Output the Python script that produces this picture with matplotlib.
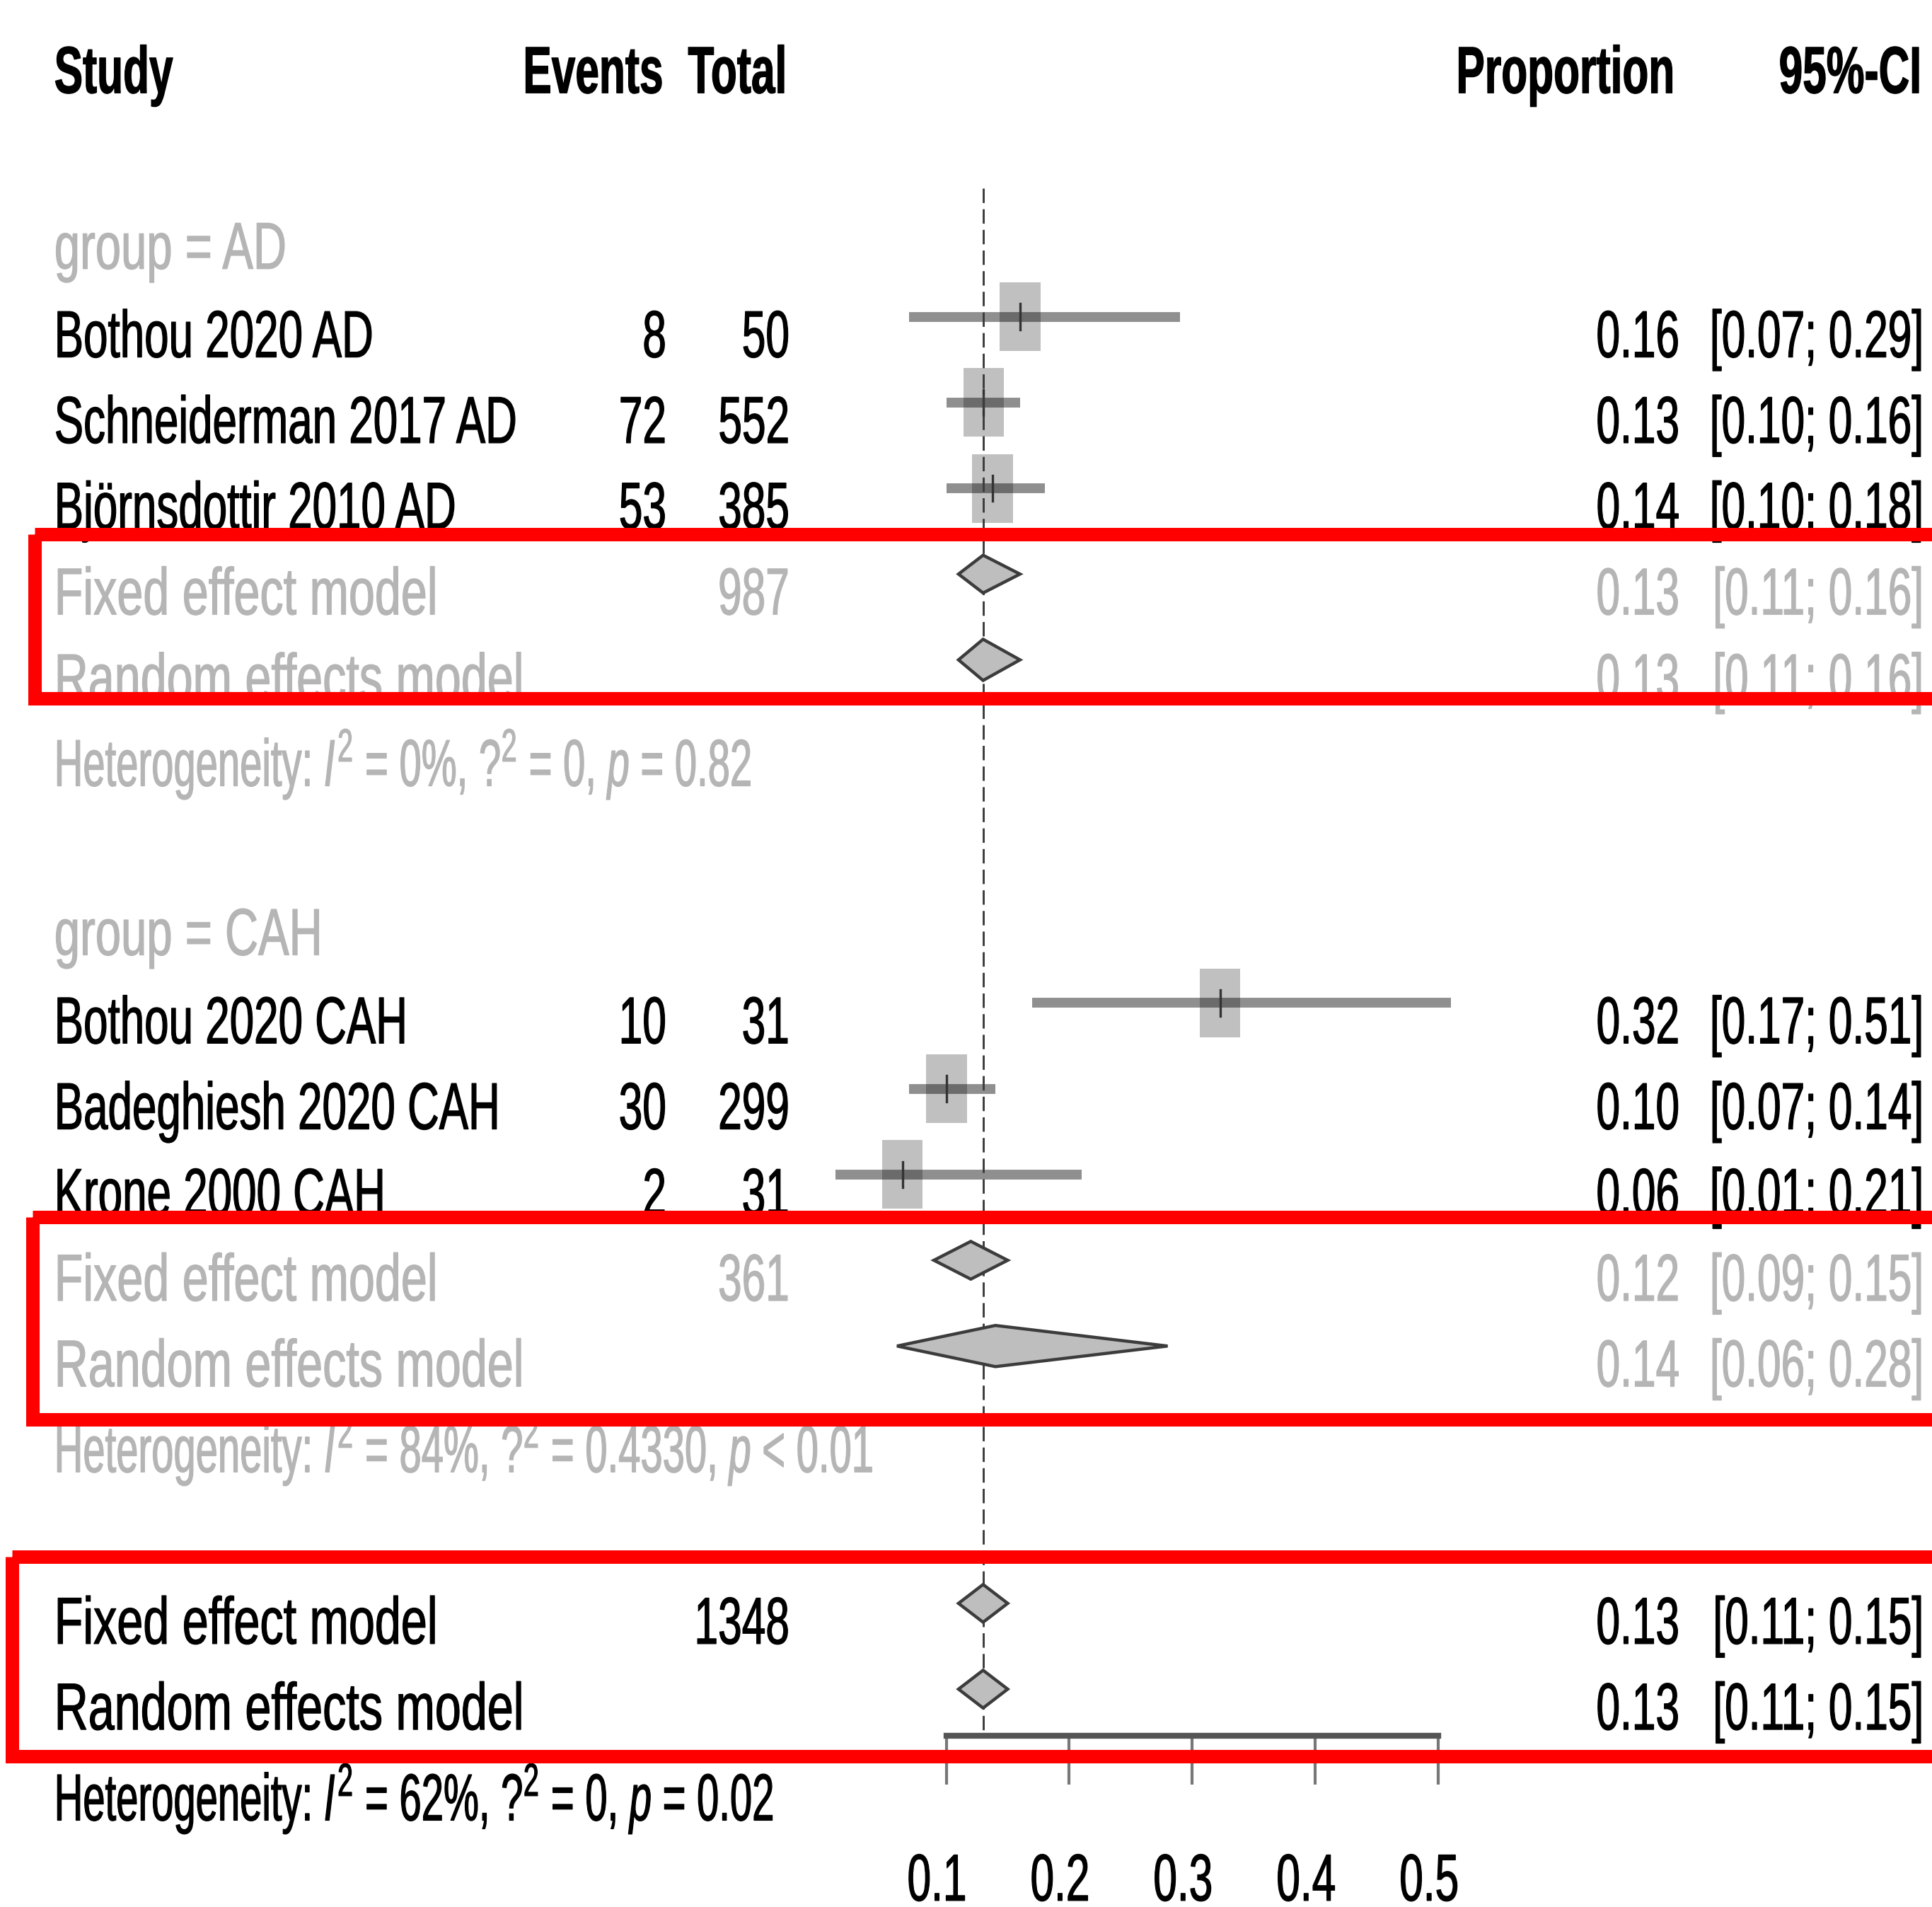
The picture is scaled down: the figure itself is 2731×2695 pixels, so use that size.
import matplotlib
matplotlib.use("Agg")
import matplotlib.pyplot as plt
from matplotlib.patches import Rectangle, Polygon
from matplotlib.patheffects import AbstractPathEffect
from matplotlib.transforms import Affine2D, ScaledTranslation, blended_transform_factory
from matplotlib import font_manager

# ---------------- data ----------------
studies = ["Bothou 2020 AD", "Schneiderman 2017 AD", "Björnsdottir 2010 AD",
           "Bothou 2020 CAH", "Badeghiesh 2020 CAH", "Krone 2000 CAH"]
study_group = ["AD", "AD", "AD", "CAH", "CAH", "CAH"]
events = [8, 72, 53, 10, 30, 2]
totals = [50, 552, 385, 31, 299, 31]
prop = [0.16, 0.13, 0.14, 0.32, 0.10, 0.06]
ci_low = [0.07, 0.10, 0.10, 0.17, 0.07, 0.01]
ci_high = [0.29, 0.16, 0.18, 0.51, 0.14, 0.21]

groups = ["AD", "CAH"]
group_n = [987, 361]
fixed_est = [0.13, 0.12]
fixed_low = [0.11, 0.09]
fixed_high = [0.16, 0.15]
random_est = [0.13, 0.14]
random_low = [0.11, 0.06]
random_high = [0.16, 0.28]
het_i2 = ["0%", "84%"]
het_tau2 = ["0", "0.4330"]
het_p = ["= 0.82", "< 0.01"]

overall_n = 1348
overall_fixed = [0.13, 0.11, 0.15]
overall_random = [0.13, 0.11, 0.15]
overall_het = ["62%", "0", "= 0.02"]

x_ticks = [0.1, 0.2, 0.3, 0.4, 0.5]
x_tick_labels = ["0.1", "0.2", "0.3", "0.4", "0.5"]

# ---------------- style ----------------
names = {f.name for f in font_manager.fontManager.ttflist}
FONT = "Liberation Sans" if "Liberation Sans" in names else "DejaVu Sans"
plt.rcParams["font.family"] = [FONT, "DejaVu Sans"]
plt.rcParams["mathtext.fontset"] = "custom"
plt.rcParams["mathtext.rm"] = FONT
plt.rcParams["mathtext.it"] = FONT + ":italic"
plt.rcParams["mathtext.bf"] = FONT + ":bold"

FS = 43.5
SY = 1.55
STROKE = 0.9
GRAY_TXT = "#b5b5b5"
BASE = 0.47


class GlyphStretch(AbstractPathEffect):
    """Stretch glyphs about their baseline-left origin and slightly embolden them."""
    def __init__(self, sy, sx=1.0, stroke=0.0):
        super().__init__()
        self._sx, self._sy, self._stroke = sx, sy, stroke

    def draw_path(self, renderer, gc, tpath, affine, rgbFace=None):
        tr = Affine2D().scale(self._sx, self._sy) + affine
        gc0 = renderer.new_gc()
        gc0.copy_properties(gc)
        if self._stroke > 0 and rgbFace is not None:
            gc0.set_linewidth(self._stroke)
            gc0.set_foreground(rgbFace)
            gc0.set_joinstyle("round")
        renderer.draw_path(gc0, tpath, tr, rgbFace)
        gc0.restore()


def pe(sx=1.0):
    return [GlyphStretch(SY, sx, STROKE)]


fig = plt.figure(figsize=(27.31, 26.95), dpi=100)
ax = fig.add_axes([0, 0, 1, 1])
ax.set_xlim(-0.6691, 0.9013)
ax.set_ylim(21.54, -0.693)
for s in ["top", "left", "right"]:
    ax.spines[s].set_visible(False)
ax.set_yticks([])

tr = blended_transform_factory(fig.transFigure, ax.transData)

X_STUDY = 0.0281
X_EVENTS = 0.3449
X_TOTAL = 0.4086
X_PROP = 0.8693
X_CI = 0.9956

SX_STUDY = 1.025
SX_MODEL = 1.10
SX_GROUP = 1.08
SX_HET = 0.93


def txt(x, y, s, ha="left", color="black", weight="normal", sx=1.0):
    ax.text(x, y, s, transform=tr, ha=ha, va="baseline", fontsize=FS,
            color=color, fontweight=weight, path_effects=pe(sx), zorder=4)


def ci_str(lo, hi):
    return f"[{lo:.2f}; {hi:.2f}]"


# header
hy = 0.39
txt(X_STUDY, hy, "Study", weight="bold")
txt(0.3433, hy, "Events", ha="right", weight="bold")
txt(0.4072, hy, "Total", ha="right", weight="bold")
txt(0.8667, hy, "Proportion", ha="right", weight="bold")
txt(0.9945, hy, "95%-CI", ha="right", weight="bold")

SQ_W = 0.033
SQ_H = 0.8
D_H = 0.22


def diamond(est, lo, hi, r, h=D_H):
    ax.add_patch(Polygon([[lo, r], [est, r - h], [hi, r], [est, r + h]], closed=True,
                         facecolor="#bebebe", edgecolor="#3c3c3c", lw=3.2, zorder=3))


row = 2
for g, grp in enumerate(groups):
    txt(X_STUDY, row + BASE - 0.03, f"group = {grp}", color=GRAY_TXT, sx=SX_GROUP)
    row += 1
    for i, sg in enumerate(study_group):
        if sg != grp:
            continue
        txt(X_STUDY, row + BASE, studies[i], sx=SX_STUDY)
        txt(X_EVENTS, row + BASE, str(events[i]), ha="right")
        txt(X_TOTAL, row + BASE, str(totals[i]), ha="right")
        txt(X_PROP, row + BASE, f"{prop[i]:.2f}", ha="right")
        txt(X_CI, row + BASE, ci_str(ci_low[i], ci_high[i]), ha="right")
        p = events[i] / totals[i]
        ax.add_patch(Rectangle((p - SQ_W / 2, row - SQ_H / 2), SQ_W, SQ_H,
                               facecolor="#c0c0c0", edgecolor="none", zorder=1))
        ax.plot([ci_low[i], ci_high[i]], [row, row], color="black", alpha=0.44,
                lw=10, solid_capstyle="butt", zorder=2)
        ax.plot([p, p], [row - 0.15, row + 0.15], color="#333333", lw=2.4, zorder=2.2)
        row += 1
    # subgroup models
    txt(X_STUDY, row + BASE, "Fixed effect model", color=GRAY_TXT, sx=SX_MODEL)
    txt(X_TOTAL, row + BASE, str(group_n[g]), ha="right", color=GRAY_TXT)
    txt(X_PROP, row + BASE, f"{fixed_est[g]:.2f}", ha="right", color=GRAY_TXT)
    txt(X_CI, row + BASE, ci_str(fixed_low[g], fixed_high[g]), ha="right", color=GRAY_TXT)
    diamond(fixed_est[g], fixed_low[g], fixed_high[g], row)
    row += 1
    txt(X_STUDY, row + BASE, "Random effects model", color=GRAY_TXT, sx=SX_MODEL)
    txt(X_PROP, row + BASE, f"{random_est[g]:.2f}", ha="right", color=GRAY_TXT)
    txt(X_CI, row + BASE, ci_str(random_low[g], random_high[g]), ha="right", color=GRAY_TXT)
    diamond(random_est[g], random_low[g], random_high[g], row, h=0.24)
    row += 1
    txt(X_STUDY, row + BASE,
        rf"Heterogeneity: $I^2$ = {het_i2[g]}, ?$^2$ = {het_tau2[g]}, $p$ {het_p[g]}",
        color=GRAY_TXT, sx=SX_HET)
    row += 2

# overall
txt(X_STUDY, row + BASE, "Fixed effect model", sx=SX_MODEL)
txt(X_TOTAL, row + BASE, str(overall_n), ha="right")
txt(X_PROP, row + BASE, f"{overall_fixed[0]:.2f}", ha="right")
txt(X_CI, row + BASE, ci_str(overall_fixed[1], overall_fixed[2]), ha="right")
diamond(overall_fixed[0], overall_fixed[1], overall_fixed[2], row)
row += 1
txt(X_STUDY, row + BASE, "Random effects model", sx=SX_MODEL)
txt(X_PROP, row + BASE, f"{overall_random[0]:.2f}", ha="right")
txt(X_CI, row + BASE, ci_str(overall_random[1], overall_random[2]), ha="right")
diamond(overall_random[0], overall_random[1], overall_random[2], row)
axis_row = row + 0.54
row += 1
txt(X_STUDY, row + BASE + 0.06,
    rf"Heterogeneity: $I^2$ = {overall_het[0]}, ?$^2$ = {overall_het[1]}, $p$ {overall_het[2]}",
    sx=SX_HET)

# reference (dashed) line at overall fixed estimate
ax.plot([overall_fixed[0], overall_fixed[0]], [1.5, axis_row], color="#3c3c3c",
        lw=2.1, linestyle=(0, (7, 3)), zorder=2.5)

# x axis
ax.spines["bottom"].set_position(("data", axis_row))
ax.spines["bottom"].set_bounds(x_ticks[0], x_ticks[-1])
ax.spines["bottom"].set_color("#555555")
ax.spines["bottom"].set_linewidth(6.0)
ax.set_xticks(x_ticks)
ax.set_xticklabels(x_tick_labels, fontsize=FS)
ax.tick_params(axis="x", direction="out", length=50, width=3, color="#777777", pad=87)
shift = ScaledTranslation(-0.13, 0, fig.dpi_scale_trans)
for lab in ax.get_xticklabels():
    lab.set_path_effects(pe())
    lab.set_transform(lab.get_transform() + shift)

# red annotation boxes
red_boxes = [(-0.641, 5.536, 7.448), (-0.6427, 13.50, 15.86), (-0.6593, 17.46, 19.78)]
for x0, y0, y1 in red_boxes:
    ax.add_patch(Rectangle((x0, y0), 2.0, y1 - y0, fill=False, edgecolor="#ff0000",
                           lw=13.7, zorder=10, joinstyle="miter"))

fig.savefig("out.png", dpi=100, facecolor="white")
